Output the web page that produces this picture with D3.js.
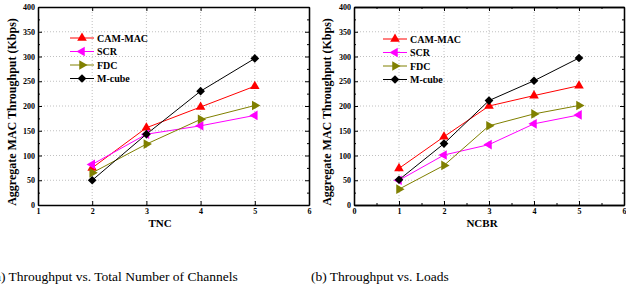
<!DOCTYPE html>
<html>
<head>
<meta charset="utf-8">
<script src="https://cdn.jsdelivr.net/npm/d3@7"></script>
<style>
  body { margin: 0; background: #fff; }
  svg, svg text { font-family: "Liberation Serif", "DejaVu Serif", serif; }
  .axis text { font-weight: bold; font-size: 8px; fill: #000; }
  .axis path, .axis line { stroke: #000; }
  .grid line { stroke: #b0b0b0; stroke-dasharray: 1 2; stroke-width: 0.8; }
</style>
</head>
<body>
<div id="graf"></div>
<script>
// Datos
const series = ["CAM-MAC", "SCR", "FDC", "M-cube"]
const colores = ["#ff0000", "#ff00ff", "#808000", "#000000"]

// (a) TNC
const tncX = [2, 3, 4, 5]
const tncCamMac = [75, 156, 198, 240]
const tncScr = [82, 143, 160, 181]
const tncFdc = [65, 123, 173, 201]
const tncMcube = [50, 143, 230, 296]

// (b) NCBR
const ncbrX = [1, 2, 3, 4, 5]
const ncbrCamMac = [74, 138, 200, 221, 241]
const ncbrScr = [50, 101, 122, 164, 182]
const ncbrFdc = [32, 80, 160, 184, 201]
const ncbrMcube = [51, 124, 211, 251, 297]

const yTicks = [0, 50, 100, 150, 200, 250, 300, 350, 400]
const yLabel = "Aggregate MAC Throughput (Kbps)"
const captionA = "(a) Throughput vs. Total Number of Channels"
const captionB = "(b) Throughput vs. Loads"

const fuente = "Liberation Serif, DejaVu Serif, serif"

const svg = d3.select("#graf")
  .append("svg")
  .attr("width", 626)
  .attr("height", 290)
  .attr("font-family", fuente)

// simbolos de cada serie
const marcador = (i) => {
  if (i === 3) return { path: d3.symbol(d3.symbolSquare, 38)(), rot: 45 }
  const p = d3.symbol(d3.symbolTriangle, 40)()
  return { path: p, rot: [0, -90, 90][i] }
}

const panel = (cfg) => {
  const x = d3.scaleLinear().domain(cfg.xDomain).range([cfg.left, cfg.right])
  const y = d3.scaleLinear().domain([0, 400]).range([205, 7])
  const g = svg.append("g")

  // rejilla
  const grid = g.append("g").classed("grid", true)
  grid.selectAll(".gx")
    .data(cfg.xMajor.filter((d) => d > cfg.xDomain[0] && d < cfg.xDomain[1]))
    .join("line")
    .attr("x1", (d) => x(d)).attr("x2", (d) => x(d))
    .attr("y1", y(0)).attr("y2", y(400))
  grid.selectAll(".gy")
    .data(yTicks.filter((d) => d > 0 && d < 400))
    .join("line")
    .attr("x1", cfg.left).attr("x2", cfg.right)
    .attr("y1", (d) => y(d)).attr("y2", (d) => y(d))

  // ejes (ticks hacia dentro)
  const minorY = d3.range(25, 400, 50)
  const ax = (gen, tr, vals, size, labels) => {
    const a = g.append("g").classed("axis", true)
      .attr("transform", tr)
      .call(gen.tickValues(vals).tickSizeInner(-size).tickSizeOuter(0).tickPadding(labels ? 3 : 0)
        .tickFormat(labels ? d3.format("d") : ""))
    a.attr("font-family", fuente)
    a.select(".domain").attr("stroke-width", 1.3)
    return a
  }
  ax(d3.axisBottom(x), `translate(0,${y(0)})`, cfg.xMajor, 4, true)
  ax(d3.axisTop(x), `translate(0,${y(400)})`, cfg.xMajor, 4, false)
  ax(d3.axisLeft(y), `translate(${cfg.left},0)`, yTicks, 4, true)
  ax(d3.axisRight(y), `translate(${cfg.right},0)`, yTicks, 4, false)
  if (cfg.xMinor.length) {
    ax(d3.axisBottom(x), `translate(0,${y(0)})`, cfg.xMinor, 2, false)
    ax(d3.axisTop(x), `translate(0,${y(400)})`, cfg.xMinor, 2, false)
  }
  ax(d3.axisLeft(y), `translate(${cfg.left},0)`, minorY, 2, false)
  ax(d3.axisRight(y), `translate(${cfg.right},0)`, minorY, 2, false)

  // titulos de ejes
  g.append("text")
    .attr("x", cfg.xTitleX).attr("y", 227)
    .attr("text-anchor", "middle")
    .attr("font-weight", "bold").attr("font-size", 11)
    .text(cfg.xTitle)
  g.append("text")
    .attr("transform", `translate(${cfg.yTitleX},112) rotate(-90)`)
    .attr("text-anchor", "middle")
    .attr("dominant-baseline", "middle")
    .attr("font-weight", "bold").attr("font-size", 12)
    .text(yLabel)

  // lineas y marcadores
  const linea = d3.line().x((d) => x(d[0])).y((d) => y(d[1]))
  cfg.values.forEach((vals, i) => {
    const pts = cfg.xs.map((xv, j) => [xv, vals[j]])
    g.append("path")
      .attr("d", linea(pts))
      .attr("fill", "none")
      .attr("stroke", colores[i])
      .attr("stroke-width", 1)
    const m = marcador(i)
    g.selectAll(null).data(pts).join("path")
      .attr("d", m.path)
      .attr("transform", (d) => `translate(${x(d[0])},${y(d[1])}) rotate(${m.rot})`)
      .attr("fill", colores[i])
  })

  // leyenda
  const ley = g.append("g")
  series.forEach((s, i) => {
    const ly = cfg.legY + i * 13.5
    ley.append("line")
      .attr("x1", cfg.legX).attr("x2", cfg.legX + 24)
      .attr("y1", ly).attr("y2", ly)
      .attr("stroke", colores[i]).attr("stroke-width", 1)
    const m = marcador(i)
    ley.append("path")
      .attr("d", m.path)
      .attr("transform", `translate(${cfg.legX + 12},${ly}) rotate(${m.rot})`)
      .attr("fill", colores[i])
    ley.append("text")
      .attr("x", cfg.legX + 27).attr("y", ly)
      .attr("dy", "0.35em")
      .attr("font-weight", "bold").attr("font-size", 10)
      .text(s)
  })

  // pie de figura (el original aparece recortado a la izquierda)
  svg.append("text")
    .attr("x", cfg.capX).attr("y", 281)
    .attr("font-size", 13.5)
    .text(cfg.caption)
}

panel({
  left: 38, right: 309, xDomain: [1, 6],
  xMajor: [1, 2, 3, 4, 5, 6], xMinor: [],
  xs: tncX, values: [tncCamMac, tncScr, tncFdc, tncMcube],
  xTitle: "TNC", xTitleX: 160, yTitleX: 13,
  legX: 70, legY: 38, caption: captionA, capX: -9.5,
})

panel({
  left: 354, right: 624, xDomain: [0, 6],
  xMajor: [0, 1, 2, 3, 4, 5, 6], xMinor: d3.range(0.5, 6, 1),
  xs: ncbrX, values: [ncbrCamMac, ncbrScr, ncbrFdc, ncbrMcube],
  xTitle: "NCBR", xTitleX: 482, yTitleX: 328,
  legX: 383, legY: 39, caption: captionB, capX: 311,
})
</script>
</body>
</html>
